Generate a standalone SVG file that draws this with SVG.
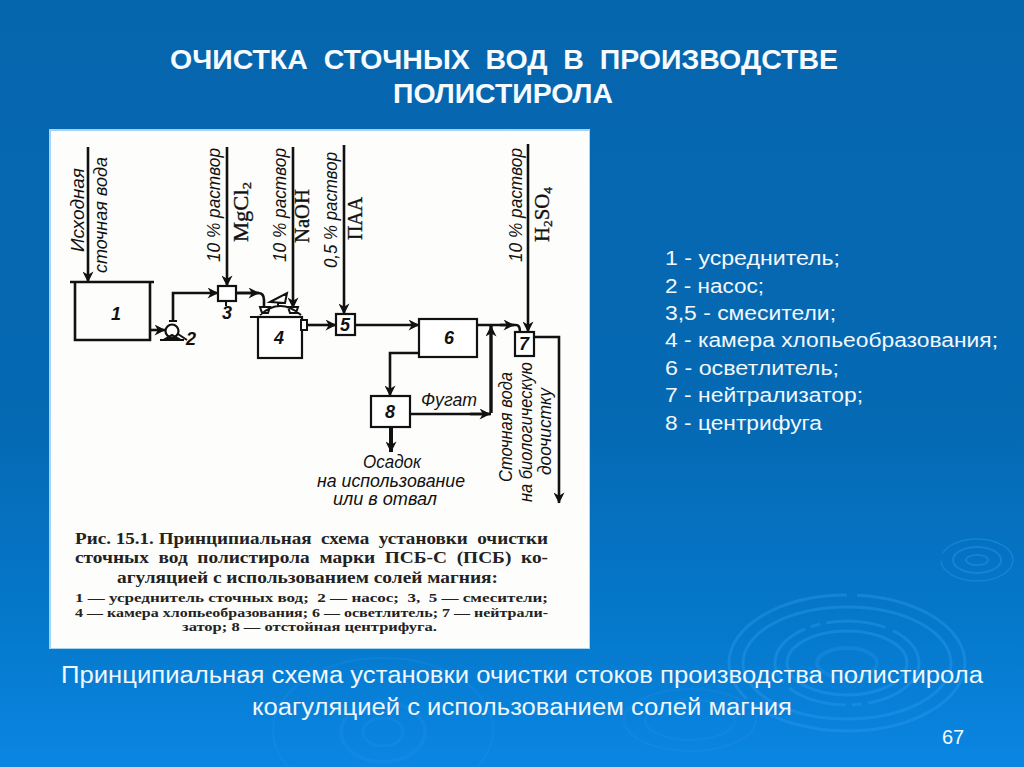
<svg xmlns="http://www.w3.org/2000/svg" width="1024" height="767" viewBox="0 0 1024 767">
<style>
.sl{font-family:"Liberation Sans",Arial,sans-serif;fill:#f6fbff}
.w{font-family:"Liberation Sans",Arial,sans-serif;fill:#eef7fd;font-size:23px}
.t{font-family:"Liberation Sans",Arial,sans-serif;fill:#f2f8fd;font-size:20px}
.i{font-family:"Liberation Sans",Arial,sans-serif;font-style:italic;font-size:17.5px;fill:#111}
.d{font-family:"Liberation Sans",Arial,sans-serif;font-style:italic;font-weight:bold;font-size:18px;fill:#111}
.n{font-family:"Liberation Serif",serif;font-size:20px;fill:#111;stroke:#111;stroke-width:.35}
.c{font-family:"Liberation Serif",serif;font-size:17px;fill:#222;font-weight:bold}
.s{font-family:"Liberation Serif",serif;font-size:13.5px;fill:#222;font-weight:bold}
.b{fill:#fff;stroke:#111;stroke-width:2.2}
.l{fill:none;stroke:#111;stroke-width:2.6}
.e{fill:none;stroke:#111;stroke-width:2}
.rip{fill:none;stroke:#2c98f0;stroke-opacity:.42}
.f{stroke:#2c98f0;stroke-opacity:.2}
</style>
<defs>
<linearGradient id="bg" x1="0" y1="0" x2="0" y2="1"><stop offset="0" stop-color="#0566ae"/><stop offset=".55" stop-color="#0569b3"/><stop offset=".82" stop-color="#0579cc"/><stop offset="1" stop-color="#0a86e2"/></linearGradient>
<marker id="a" viewBox="0 0 10 10" refX="9.5" refY="5" markerWidth="14" markerHeight="11" markerUnits="userSpaceOnUse" orient="auto"><path d="M0 0L10 5L0 10L3 5Z" fill="#111"/></marker>
</defs>
<rect width="1024" height="767" fill="url(#bg)"/>
<g id="ripples" class="rip">
<ellipse cx="847" cy="663" rx="118" ry="68" stroke-width="3" stroke-dasharray="250 6 190 10"/><ellipse cx="847" cy="663" rx="104" ry="56" stroke-width="3"/><ellipse cx="847" cy="663" rx="72" ry="42" stroke-width="3" stroke-dasharray="70 6 10 6 60 8"/><ellipse cx="847" cy="663" rx="60" ry="32" stroke-width="3"/><ellipse cx="847" cy="663" rx="30" ry="15" stroke-width="4" stroke-opacity=".3"/>
<ellipse cx="977" cy="560" rx="36" ry="21" stroke-width="1.5" stroke-dasharray="90 8"/><ellipse cx="977" cy="560" rx="24" ry="13" stroke-width="2"/><ellipse cx="977" cy="560" rx="11" ry="5" stroke-width="2"/>
<ellipse class="f" cx="690" cy="720" rx="66" ry="31" stroke-width="2"/><ellipse class="f" cx="690" cy="720" rx="45" ry="20" stroke-width="2"/>
<ellipse class="f" cx="383" cy="730" rx="110" ry="72" stroke-width="2"/><ellipse class="f" cx="383" cy="732" rx="42" ry="30" stroke-width="4"/><ellipse class="f" cx="383" cy="732" rx="20" ry="14" stroke-width="3"/>
</g>
<text class="sl" x="504" y="69" font-size="27" font-weight="bold" text-anchor="middle" xml:space="preserve" textLength="668" lengthAdjust="spacingAndGlyphs">ОЧИСТКА  СТОЧНЫХ  ВОД  В  ПРОИЗВОДСТВЕ</text>
<text class="sl" x="503" y="103" font-size="27" font-weight="bold" text-anchor="middle" textLength="220" lengthAdjust="spacingAndGlyphs">ПОЛИСТИРОЛА</text>
<rect x="49" y="129" width="541" height="520" fill="#a8d4f2"/>
<rect x="51" y="131" width="538" height="517" fill="#fdfdfb"/>
<g id="connectors" class="l">
<path d="M88 147V282" marker-end="url(#a)"/>
<path d="M227 147V286" marker-end="url(#a)"/>
<path d="M293 147V308" marker-end="url(#a)"/>
<path d="M344 145V314" marker-end="url(#a)"/>
<path d="M528 144V332" marker-end="url(#a)"/>
<path d="M150 330H165" marker-end="url(#a)"/>
<path d="M173 322V293H218" marker-end="url(#a)"/>
<path d="M236 293H258Q264 293 264 300V307"/>
<path d="M236 293H259" marker-end="url(#a)"/>
<path d="M307 325H336" marker-end="url(#a)"/>
<path d="M355 325H419" marker-end="url(#a)"/>
<path d="M477 325H516Q520 325 520 332"/>
<path d="M500 325H514" marker-end="url(#a)"/>
<path d="M534 337H559V503" marker-end="url(#a)"/>
<path d="M491 413V326" marker-end="url(#a)" stroke-width="3.4"/>
<path d="M410 414H491"/>
<path d="M470 414H490" marker-end="url(#a)"/>
<path d="M419 353H390V396" marker-end="url(#a)"/>
<path d="M391 427V452" marker-end="url(#a)" stroke-width="4"/>
</g>
<g id="n1"><path class="l" d="M70 282H154M75 282V340H150V282"/><text class="d" x="111" y="320">1</text></g>
<g id="n2"><circle class="b" cx="172" cy="331" r="6.5"/><path class="e" d="M165 339L172 335L179 339ZM160 340H184M169 321H177M178 334L187 340"/><text class="d" x="186" y="345">2</text></g>
<g id="n3"><rect class="b" x="218" y="286" width="18" height="15"/><path class="e" d="M226 301V306"/><text class="d" x="222" y="319">3</text></g>
<g id="n4"><rect class="b" x="258" y="317" width="44" height="41"/><path class="e" d="M250 317H302M260 315Q280 297 301 315M260 307h10l-2 6h-6ZM288 307h10l-2 6h-6ZM270 302L287 293L285 303ZM278 303V307"/><path fill="#fff" stroke="#111" stroke-width="2" d="M301 320h6v10h-6Z"/><text class="d" x="274" y="344">4</text></g>
<g id="n5"><rect class="b" x="336" y="314" width="19" height="21"/><text class="d" x="340" y="331">5</text></g>
<g id="n6"><rect class="b" x="419" y="319" width="58" height="38"/><text class="d" x="444" y="344">6</text></g>
<g id="n7"><rect class="b" x="515" y="332" width="19" height="24"/><text class="d" x="519" y="350">7</text></g>
<g id="n8"><rect class="b" x="371" y="396" width="39" height="31"/><text class="d" x="385" y="418">8</text></g>
<g id="labels">
<text class="i" transform="translate(84 252) rotate(-90)" textLength="84" lengthAdjust="spacingAndGlyphs">Исходная</text>
<text class="i" transform="translate(107 273) rotate(-90)" textLength="116" lengthAdjust="spacingAndGlyphs">сточная вода</text>
<text class="i" transform="translate(220 262) rotate(-90)" textLength="114" lengthAdjust="spacingAndGlyphs">10 % раствор</text>
<text class="n" transform="translate(248 242) rotate(-90)" textLength="60" lengthAdjust="spacingAndGlyphs">MgCl<tspan font-size="13" dy="3">2</tspan></text>
<text class="i" transform="translate(286 262) rotate(-90)" textLength="114" lengthAdjust="spacingAndGlyphs">10 % раствор</text>
<text class="n" transform="translate(309 243) rotate(-90)" textLength="54" lengthAdjust="spacingAndGlyphs">NaOH</text>
<text class="i" transform="translate(337 268) rotate(-90)" textLength="116" lengthAdjust="spacingAndGlyphs">0,5 % раствор</text>
<text class="n" transform="translate(362 240) rotate(-90)" textLength="43" lengthAdjust="spacingAndGlyphs">ПАА</text>
<text class="i" transform="translate(522 262) rotate(-90)" textLength="114" lengthAdjust="spacingAndGlyphs">10 % раствор</text>
<text class="n" transform="translate(549 242) rotate(-90)" textLength="55" lengthAdjust="spacingAndGlyphs">H<tspan font-size="13" dy="3">2</tspan><tspan dy="-3">SO</tspan><tspan font-size="13" dy="3">4</tspan></text>
<text class="i" x="421" y="406" textLength="56" lengthAdjust="spacingAndGlyphs">Фугат</text>
<text class="i" x="392" y="468" text-anchor="middle" textLength="58" lengthAdjust="spacingAndGlyphs">Осадок</text>
<text class="i" x="317" y="487" textLength="148" lengthAdjust="spacingAndGlyphs">на использование</text>
<text class="i" x="333" y="505" textLength="104" lengthAdjust="spacingAndGlyphs">или в отвал</text>
<text class="i" transform="translate(512 482) rotate(-90)" textLength="110" lengthAdjust="spacingAndGlyphs">Сточная вода</text>
<text class="i" transform="translate(532 502) rotate(-90)" textLength="140" lengthAdjust="spacingAndGlyphs">на биологическую</text>
<text class="i" transform="translate(551 475) rotate(-90)" textLength="87" lengthAdjust="spacingAndGlyphs">доочистку</text>
</g>
<g id="caption">
<text class="c" x="75" y="544" textLength="473" lengthAdjust="spacingAndGlyphs" xml:space="preserve">Рис. 15.1. Принципиальная  схема  установки  очистки</text>
<text class="c" x="75" y="563" textLength="473" lengthAdjust="spacingAndGlyphs" xml:space="preserve">сточных  вод  полистирола  марки  ПСБ-С  (ПСБ)  ко-</text>
<text class="c" x="117" y="583" textLength="381" lengthAdjust="spacingAndGlyphs" xml:space="preserve">агуляцией с использованием солей магния:</text>
<text class="s" x="75" y="602" textLength="473" lengthAdjust="spacingAndGlyphs" xml:space="preserve">1 — усреднитель сточных вод;  2 — насос;  3,  5 — смесители;</text>
<text class="s" x="75" y="617" textLength="473" lengthAdjust="spacingAndGlyphs" xml:space="preserve">4 — камера хлопьеобразования; 6 — осветлитель; 7 — нейтрали-</text>
<text class="s" x="182" y="631" textLength="255" lengthAdjust="spacingAndGlyphs" xml:space="preserve">затор; 8 — отстойная центрифуга.</text>
</g>
<g id="legend">
<text class="t" x="665" y="265" textLength="175" lengthAdjust="spacingAndGlyphs">1 - усреднитель;</text>
<text class="t" x="665" y="293" textLength="99" lengthAdjust="spacingAndGlyphs">2 - насос;</text>
<text class="t" x="665" y="320" textLength="171" lengthAdjust="spacingAndGlyphs">3,5 - смесители;</text>
<text class="t" x="665" y="347" textLength="333" lengthAdjust="spacingAndGlyphs">4 - камера хлопьеобразования;</text>
<text class="t" x="665" y="375" textLength="174" lengthAdjust="spacingAndGlyphs">6 - осветлитель;</text>
<text class="t" x="665" y="402" textLength="198" lengthAdjust="spacingAndGlyphs">7 - нейтрализатор;</text>
<text class="t" x="665" y="430" textLength="157" lengthAdjust="spacingAndGlyphs">8 - центрифуга</text>
</g>
<text class="w" x="522" y="683" text-anchor="middle" textLength="922" lengthAdjust="spacingAndGlyphs">Принципиальная схема установки очистки стоков производства полистирола</text>
<text class="w" x="522" y="715" text-anchor="middle" textLength="540" lengthAdjust="spacingAndGlyphs">коагуляцией с использованием солей магния</text>
<text class="sl" x="953" y="744" font-size="20" text-anchor="middle">67</text>
</svg>
